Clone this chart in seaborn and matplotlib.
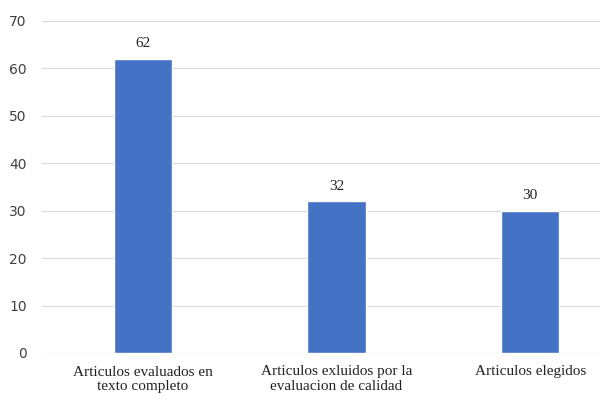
import matplotlib
matplotlib.use('Agg')
import matplotlib.pyplot as plt
import seaborn as sns
import pandas as pd

categorias = ['Articulos evaluados en\ntexto completo',
              'Articulos exluidos por la\nevaluacion de calidad',
              'Articulos elegidos']
valores = [62, 32, 30]

df = pd.DataFrame({'categoria': categorias, 'valor': valores})

sns.set_style('white')
fig = plt.figure(figsize=(6.09, 4.05), dpi=100)
ax = fig.add_axes([42 / 609, 52 / 405, 558 / 609, 332 / 405])

sns.barplot(data=df, x='categoria', y='valor', color='#4472C4', width=0.3,
            saturation=1, ax=ax, zorder=3)

ax.set_ylim(0, 70)
ax.set_xlim(-0.52, 2.36)
ax.set_yticks(range(0, 71, 10))
ax.grid(axis='y', color='#d9d9d9', linewidth=0.8, zorder=0)
ax.set_xlabel('')
ax.set_ylabel('')
for s in ax.spines.values():
    s.set_visible(False)
ax.axhline(0, color='#d9d9d9', linewidth=0.8, zorder=1)

ax.tick_params(axis='y', length=0, pad=11, labelsize=10, labelcolor='#404040')
ax.tick_params(axis='x', length=0, pad=9)
for t in ax.get_yticklabels():
    t.set_fontfamily('DejaVu Sans')
for t in ax.get_xticklabels():
    t.set_fontfamily('Liberation Serif')
    t.set_fontsize(11)
    t.set_linespacing(1.15)
    t.set_color('#222222')

for i, v in enumerate(valores):
    ax.text(i, v + 1.8, str(v), ha='center', va='bottom',
            fontfamily='Liberation Serif', fontsize=11, color='#222222')

fig.savefig('out.png', dpi=100)
